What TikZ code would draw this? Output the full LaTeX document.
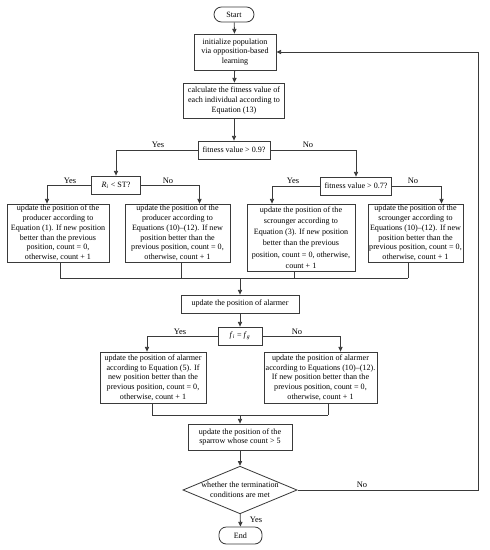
\documentclass[tikz,border=0pt]{standalone}
\usepackage{fontspec}
\setmainfont{Liberation Serif}
\usepackage{tikz}
\usetikzlibrary{shapes.geometric, arrows.meta, calc}
\usepackage{xcolor}
\definecolor{cLine}{HTML}{3A3A3A}

\begin{document}
\begin{tikzpicture}[x=0.3mm, y=-0.3mm, font=\fontsize{6.9}{8.3}\selectfont,
  box/.style={draw=cLine, line width=0.7pt, align=center, inner sep=1pt},
  flow/.style={draw=cLine, line width=0.7pt, -{Triangle[length=4pt, width=3.6pt]}},
  wire/.style={draw=cLine, line width=0.7pt},
  lbl/.style={font=\fontsize{7.2}{8}\selectfont}]
  \useasboundingbox (0,0) rectangle (489,550);

  % Main column
  \node[box, rounded corners=2.25mm, minimum width=12mm, minimum height=4.5mm]
    (start) at (234,14.5) {Start};
  \node[box, minimum width=24.6mm, minimum height=10.8mm]
    (init) at (235,52) {initialize population\\via opposition-based\\learning};
  \node[box, minimum width=30.3mm, minimum height=10.5mm]
    (calc) at (234,100.5) {calculate the fitness value of\\each individual according to\\Equation (13)};
  \node[box, minimum width=21.6mm, minimum height=5.4mm]
    (fit9) at (234,150) {fitness value > 0.9?};

  % Second level decisions
  \node[box, minimum width=14.7mm, minimum height=5.4mm]
    (ri) at (116,185) {\textit{R}\textsubscript{\textit{i}} < ST?};
  \node[box, minimum width=21.3mm, minimum height=5.4mm]
    (fit7) at (356,186) {fitness value > 0.7?};

  % Producer and scrounger updates
  \node[box, minimum width=30.6mm, minimum height=17.4mm] (p1) at (58,233)
    {update the position of the\\producer according to\\Equation (1). If new position\\better than the previous\\position, count = 0,\\otherwise, count + 1};
  \node[box, minimum width=31.5mm, minimum height=17.4mm] (p2) at (177.5,233)
    {update the position of the\\producer according to\\Equations (10)--(12). If new\\position better than the\\previous position, count = 0,\\otherwise, count + 1};
  \node[box, minimum width=32.4mm, minimum height=20.1mm] (s1) at (301,237.5)
    {update the position of the\\[1.2pt]scrounger according to\\[1.2pt]Equation (3). If new position\\[1.2pt]better than the previous\\[1.2pt]position, count = 0, otherwise,\\[1.2pt]count + 1};
  \node[box, minimum width=27.9mm, minimum height=17.4mm] (s2) at (415.5,233)
    {update the position of the\\scrounger according to\\Equations (10)--(12). If new\\position better than the\\previous position, count = 0,\\otherwise, count + 1};

  % Alarmer
  \node[box, minimum width=35.4mm, minimum height=5.4mm]
    (alarm) at (240,304) {update the position of alarmer};
  \node[box, minimum width=13.2mm, minimum height=5.4mm]
    (fi) at (240,336) {\textit{f}\textsubscript{\textit{i}} = \textit{f}\textsubscript{\textit{g}}};
  \node[box, minimum width=31.8mm, minimum height=15.3mm] (a1) at (153,377.5)
    {update the position of alarmer\\according to Equation (5). If\\new position better than the\\previous position, count = 0,\\otherwise, count + 1};
  \node[box, minimum width=33.9mm, minimum height=15.3mm] (a2) at (320.5,377.5)
    {update the position of alarmer\\according to Equations (10)--(12).\\If new position better than the\\previous position, count = 0,\\otherwise, count + 1};

  % Final steps
  \node[box, minimum width=31.2mm, minimum height=7.8mm]
    (spar) at (240,437) {update the position of the\\sparrow whose count > 5};
  \node[box, diamond, aspect=2.4, inner sep=0pt]
    (dia) at (240,490) {whether the termination\\conditions are met};
  \node[box, rounded corners=2.2mm, minimum width=12.9mm, minimum height=5.1mm]
    (end) at (240.5,535.5) {End};

  % Merge points
  \coordinate (m1) at (240,278);
  \coordinate (m2) at (240,415);
  \coordinate (loop) at (478,490);

  % Arrows down the main column
  \draw[flow] (start) -- (init);
  \draw[flow] (init) -- (calc);
  \draw[flow] (calc) -- (fit9);

  % Branches
  \draw[flow] (fit9.west) -| (ri.north);
  \draw[flow] (fit9.east) -| (fit7.north);
  \draw[flow] (ri.west) -| ($(p1.north)+(-11,0)$);
  \draw[flow] (ri.east) -| ($(p2.north)+(22,0)$);
  \draw[flow] (fit7.west) -| ($(s1.north)+(-29,0)$);
  \draw[flow] (fit7.east) -| ($(s2.north)+(26,0)$);

  % Join the four updates
  \foreach \n/\dx in {p1/2, p2/3.5, s1/-7, s2/-7.5} {
    \path ($(\n.south)+(\dx,0)$) coordinate (x\n);
    \draw[wire] (x\n) -- (x\n |- m1);
  }
  \draw[wire] (xp1 |- m1) -- (xs2 |- m1);
  \draw[flow] (m1) -- (alarm.north);
  \draw[flow] (alarm) -- (fi);

  % Alarmer branches
  \draw[flow] (fi.west) -| ($(a1.north)+(-6,0)$);
  \draw[flow] (fi.east) -| ($(a2.north)+(20,0)$);
  \foreach \n/\dx in {a1/-1, a2/7.5} {
    \path ($(\n.south)+(\dx,0)$) coordinate (x\n);
    \draw[wire] (x\n) -- (x\n |- m2);
  }
  \draw[wire] (xa1 |- m2) -- (xa2 |- m2);
  \draw[flow] (m2) -- (spar.north);
  \draw[flow] (spar) -- (dia);
  \draw[flow] (dia) -- (end);
  \draw[flow] (dia.east) -- (loop) |- (init.east);

  % Yes / No labels
  \foreach \x/\y/\t in {158/145/Yes, 308/145/No, 70/181/Yes, 168/181/No,
                        293/181/Yes, 413/181/No, 180/332/Yes, 297/332/No,
                        256/520/Yes, 362/485/No}
    \node[lbl] (t\x) at (\x,\y) {\t};
\end{tikzpicture}
\end{document}
